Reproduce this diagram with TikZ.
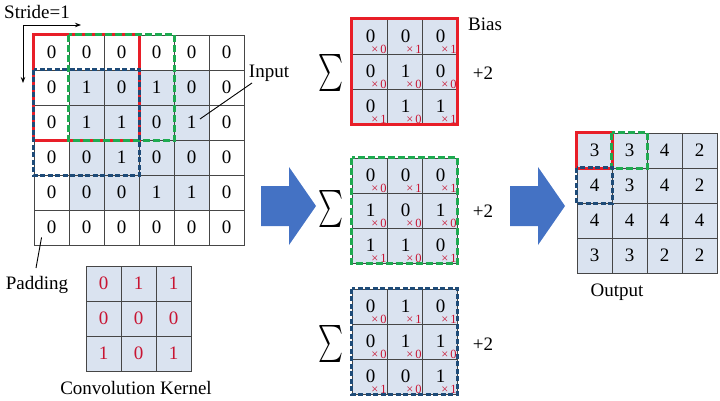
\documentclass[tikz,border=0pt]{standalone}
\usepackage{fontspec}
\setmainfont{Liberation Serif}
\usepackage{graphicx}
\usetikzlibrary{arrows.meta}
\definecolor{cellfill}{RGB}{218,227,240}
\definecolor{gridline}{RGB}{70,70,70}
\definecolor{kred}{RGB}{232,30,40}
\definecolor{kgreen}{RGB}{30,170,80}
\definecolor{kblue}{RGB}{30,75,120}
\definecolor{numred}{RGB}{200,20,50}
\definecolor{arrowblue}{RGB}{68,114,196}
\newcommand{\drawsummat}[3]{%
  \foreach \row [count=\r from 0] in {#3}{
    \foreach \v/\k [count=\c from 0] in \row{
      \node[cell, fill=cellfill] (#1-\r-\c) at ({352+17.5+35*\c},{#2+17.5+35*\r}) {};
      \node[cellnum] (#1v-\r-\c) at ([shift={(1,0)}]#1-\r-\c.center) {\v};
      \node[subnum] (#1k-\r-\c) at ([shift={(-0.5,-0.5)}]#1-\r-\c.south east) {×\,\k};
    }
  }
}
\begin{document}
\begin{tikzpicture}[x=1pt,y=-1pt,
  cell/.style={draw=gridline, line width=0.9pt, minimum size=35pt, inner sep=0pt, font=\fontsize{19}{19}\selectfont},
  cellnum/.style={inner sep=0pt, font=\fontsize{19}{19}\selectfont},
  subnum/.style={font=\fontsize{12.5}{12.5}\selectfont, text=numred, inner sep=0pt, anchor=south east},
  lab/.style={font=\fontsize{19}{22}\selectfont, inner sep=1pt},
  redbox/.style={draw=kred, line width=2.6pt},
  greenbox/.style={draw=kgreen, line width=2.6pt, dash pattern=on 7pt off 3pt},
  bluebox/.style={draw=kblue, line width=2.6pt, dash pattern=on 5pt off 2.5pt},
  leader/.style={draw=black, line width=0.9pt},
  bigarrow/.style={fill=arrowblue, draw=none}]
\useasboundingbox (0,0) rectangle (720,401);

% ---------- input grid ----------
\fill[cellfill] (69,70) rectangle (209,210);
\foreach \row [count=\r from 0] in {{0,0,0,0,0,0},{0,1,0,1,0,0},{0,1,1,0,1,0},{0,0,1,0,0,0},{0,0,0,1,1,0},{0,0,0,0,0,0}}{
  \foreach \v [count=\c from 0] in \row{
    \node[cell] (in-\r-\c) at ({34+17.5+35*\c},{35+17.5+35*\r}) {\v};
  }
}
\draw[redbox] (in-0-0.north west) rectangle (in-2-2.south east);
\draw[greenbox] (in-0-1.north west) rectangle (in-2-3.south east);
\draw[bluebox] (in-1-0.north west) rectangle (in-3-2.south east);

% stride
\node[lab, anchor=west] (stride) at (3,12) {Stride=1};
\coordinate (sorig) at (23,25);
\coordinate (sright) at (81,25);
\coordinate (sdown) at (23,83);
\draw[leader, -{Stealth[length=6pt,width=4.5pt]}] (sorig) -- (sright);
\draw[leader, -{Stealth[length=6pt,width=4.5pt]}] (sorig) -- (sdown);

% input label
\node[lab] (inlab) at (269,73) {Input};
\coordinate (inend) at (252,83);
\draw[leader] ([shift={(8.5,-3.5)}]in-2-4.center) -- (inend);

% padding label
\node[lab] (padlab) at (37,285) {Padding};
\coordinate (padend) at (36,268);
\draw[leader] ([shift={(8,-8)}]in-5-0.south west) -- (padend);

% ---------- kernel ----------
\foreach \row [count=\r from 0] in {{0,1,1},{0,0,0},{1,0,1}}{
  \foreach \v [count=\c from 0] in \row{
    \node[cell, fill=cellfill, text=numred] (k-\r-\c) at ({86+17.5+35*\c},{266+17.5+35*\r}) {\v};
  }
}
\node[lab] (klab) at (136,388) {Convolution Kernel};

% ---------- arrows ----------
\fill[bigarrow] (261,186) -- (289,186) -- (289,167) -- (316,206) -- (289,245) -- (289,226) -- (261,226) -- cycle;
\fill[bigarrow] (510,186) -- (538,186) -- (538,167) -- (565,206) -- (538,245) -- (538,226) -- (510,226) -- cycle;

% ---------- sum matrices ----------
\drawsummat{A}{19}{{0/0,0/1,0/1},{0/0,1/0,0/0},{0/1,1/0,1/1}}
\drawsummat{B}{158}{{0/0,0/1,0/1},{1/0,0/0,1/0},{1/1,1/0,0/1}}
\drawsummat{C}{289}{{0/0,1/1,0/1},{0/0,1/0,1/0},{0/1,0/0,1/1}}
\draw[redbox] (A-0-0.north west) rectangle (A-2-2.south east);
\draw[greenbox] (B-0-0.north west) rectangle (B-2-2.south east);
\draw[bluebox] (C-0-0.north west) rectangle (C-2-2.south east);

\node[inner sep=0pt] (sumA) at (330.5,73) {\resizebox*{25pt}{37pt}{$\sum$}};
\node[inner sep=0pt] (sumB) at (330.5,209) {\resizebox*{25pt}{37pt}{$\sum$}};
\node[inner sep=0pt] (sumC) at (330.5,344) {\resizebox*{25pt}{37pt}{$\sum$}};

\node[lab] (biaslab) at (485,24) {Bias};
\node[lab] (plusA) at (483,73) {+2};
\node[lab] (plusB) at (483,211) {+2};
\node[lab] (plusC) at (483,344) {+2};

% ---------- output ----------
\foreach \row [count=\r from 0] in {{3,3,4,2},{4,3,4,2},{4,4,4,4},{3,3,2,2}}{
  \foreach \v [count=\c from 0] in \row{
    \node[cell, fill=cellfill] (out-\r-\c) at ({577+17.5+35*\c},{133+17.5+35*\r}) {\v};
  }
}
\draw[redbox] (out-0-0.north west) rectangle (out-0-0.south east);
\draw[greenbox] (out-0-1.north west) rectangle (out-0-1.south east);
\draw[bluebox] (out-1-0.north west) rectangle (out-1-0.south east);
\node[lab] (outlab) at (617,292) {Output};
\end{tikzpicture}
\end{document}
